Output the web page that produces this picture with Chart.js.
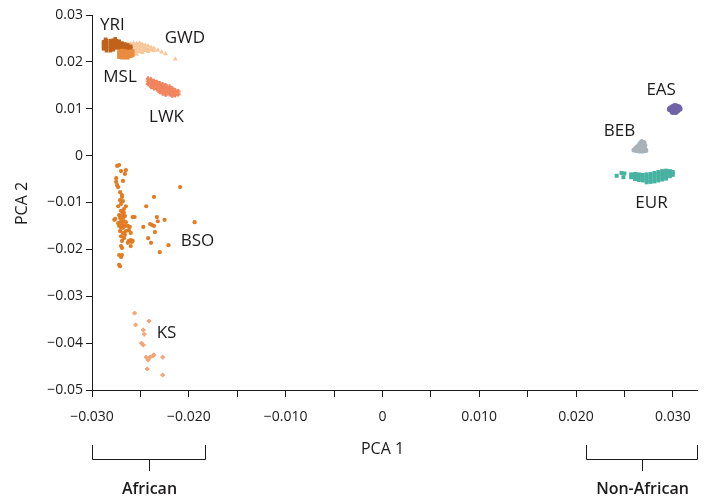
<!DOCTYPE html>
<html>
<head>
<meta charset="utf-8">
<script src="https://cdn.jsdelivr.net/npm/chart.js@4"></script>
<style>
  html, body { margin: 0; padding: 0; background: #ffffff; }
  #wrap { width: 712px; height: 501px; position: relative; }
</style>
</head>
<body>
<div id="wrap"><canvas id="c" width="712" height="501"></canvas></div>
<script>
// ---------- tick labels ----------
const xTickValues = [-0.03, -0.025, -0.02, -0.015, -0.01, -0.005, 0, 0.005, 0.01, 0.015, 0.02, 0.025, 0.03];
const xTickLabels = ['\u22120.030', '', '\u22120.020', '', '\u22120.010', '', '0', '', '0.010', '', '0.020', '', '0.030'];
const yTickValues = [-0.05, -0.04, -0.03, -0.02, -0.01, 0, 0.01, 0.02, 0.03];
const yTickLabels = ['\u22120.05', '\u22120.04', '\u22120.03', '\u22120.02', '\u22120.01', '0', '0.01', '0.02', '0.03'];

// ---------- populations ----------
const populations = ['MSL', 'YRI', 'GWD', 'LWK', 'BSO', 'KS', 'EAS', 'BEB', 'EUR'];
const labelX = [-0.0271, -0.0279, -0.0204, -0.0223, -0.0191, -0.0223, 0.0288, 0.0245, 0.0278];
const labelY = [0.0168, 0.0279, 0.0251, 0.0082, -0.0182, -0.0378, 0.0140, 0.0053, -0.0101];

// ---------- regions ----------
const regionNames = ['African', 'Non-African'];
const regionFrom = [-0.030, 0.0210];
const regionTo = [-0.0183, 0.0325];

// ---------- PCA values [PCA1, PCA2] ----------
const YRI = [
  [-0.0288,0.0243],[-0.0288,0.0238],[-0.0288,0.0233],[-0.0288,0.0228],
  [-0.0285,0.0245],[-0.0285,0.0239],[-0.0285,0.0234],[-0.0285,0.0229],[-0.0285,0.0224],
  [-0.0281,0.0245],[-0.0281,0.0240],[-0.0281,0.0234],[-0.0281,0.0229],[-0.0281,0.0224],
  [-0.0278,0.0246],[-0.0278,0.0240],[-0.0278,0.0235],[-0.0278,0.0230],[-0.0278,0.0226],
  [-0.0275,0.0245],[-0.0275,0.0240],[-0.0275,0.0235],[-0.0275,0.0230],
  [-0.0272,0.0244],[-0.0272,0.0238],[-0.0272,0.0233],[-0.0272,0.0229],
  [-0.0269,0.0240],[-0.0269,0.0235],[-0.0269,0.0231],
  [-0.0266,0.0238],[-0.0266,0.0233],[-0.0266,0.0229],
  [-0.0263,0.0236],[-0.0263,0.0231],[-0.0263,0.0227],
  [-0.0260,0.0233],[-0.0260,0.0229],[-0.0286,0.0248],[-0.0276,0.0249]
];
const MSL = [
  [-0.0272,0.0223],[-0.0272,0.0219],[-0.0272,0.0214],[-0.0272,0.0210],
  [-0.0269,0.0224],[-0.0269,0.0219],[-0.0269,0.0214],[-0.0269,0.0209],
  [-0.0266,0.0223],[-0.0266,0.0218],[-0.0266,0.0213],[-0.0266,0.0209],
  [-0.0263,0.0222],[-0.0263,0.0217],[-0.0263,0.0212],[-0.0263,0.0209],
  [-0.0260,0.0222],[-0.0260,0.0217],[-0.0260,0.0212],
  [-0.0258,0.0223],[-0.0258,0.0218],[-0.0258,0.0214]
];
const GWD = [
  [-0.0263,0.0238],[-0.0263,0.0231],[-0.0263,0.0226],[-0.0263,0.0221],[-0.0263,0.0216],
  [-0.0260,0.0239],[-0.0260,0.0232],[-0.0260,0.0227],[-0.0260,0.0222],[-0.0260,0.0217],
  [-0.0257,0.0240],[-0.0257,0.0234],[-0.0257,0.0228],[-0.0257,0.0223],[-0.0257,0.0218],
  [-0.0254,0.0239],[-0.0254,0.0233],[-0.0254,0.0227],[-0.0254,0.0221],[-0.0254,0.0216],
  [-0.0251,0.0240],[-0.0251,0.0234],[-0.0251,0.0228],[-0.0251,0.0222],
  [-0.0248,0.0238],[-0.0248,0.0232],[-0.0248,0.0226],[-0.0248,0.0220],
  [-0.0245,0.0236],[-0.0245,0.0230],[-0.0245,0.0224],
  [-0.0242,0.0234],[-0.0242,0.0228],[-0.0242,0.0222],
  [-0.0239,0.0231],[-0.0239,0.0225],
  [-0.0236,0.0229],[-0.0236,0.0224],
  [-0.0232,0.0225],[-0.0228,0.0221],[-0.0224,0.0217],[-0.0214,0.0206]
];
const LWK = [
  [-0.0242,0.0164],[-0.0242,0.0158],[-0.0242,0.0153],
  [-0.0239,0.0162],[-0.0239,0.0157],[-0.0239,0.0152],[-0.0239,0.0147],
  [-0.0236,0.0159],[-0.0236,0.0154],[-0.0236,0.0149],[-0.0236,0.0144],
  [-0.0233,0.0157],[-0.0233,0.0152],[-0.0233,0.0147],[-0.0233,0.0142],
  [-0.0230,0.0154],[-0.0230,0.0150],[-0.0230,0.0145],[-0.0230,0.0140],[-0.0230,0.0136],
  [-0.0227,0.0152],[-0.0227,0.0147],[-0.0227,0.0142],[-0.0227,0.0138],[-0.0227,0.0133],
  [-0.0224,0.0150],[-0.0224,0.0145],[-0.0224,0.0140],[-0.0224,0.0135],[-0.0224,0.0130],
  [-0.0220,0.0147],[-0.0220,0.0142],[-0.0220,0.0137],[-0.0220,0.0132],
  [-0.0217,0.0143],[-0.0217,0.0138],[-0.0217,0.0133],[-0.0217,0.0128],
  [-0.0214,0.0139],[-0.0214,0.0134],[-0.0214,0.0129],
  [-0.0211,0.0137],[-0.0211,0.0131]
];
const BSO = [
  [-0.0274,-0.0022],[-0.0272,-0.0020],[-0.0270,-0.0033],[-0.0265,-0.0031],[-0.0266,-0.0039],
  [-0.0275,-0.0048],[-0.0268,-0.0054],[-0.0275,-0.0056],[-0.0274,-0.0063],[-0.0273,-0.0067],
  [-0.0269,-0.0084],[-0.0269,-0.0088],[-0.0268,-0.0097],[-0.0273,-0.0108],[-0.0265,-0.0108],
  [-0.0270,-0.0118],[-0.0268,-0.0120],[-0.0269,-0.0127],[-0.0272,-0.0127],[-0.0276,-0.0135],
  [-0.0277,-0.0137],[-0.0268,-0.0133],[-0.0270,-0.0140],[-0.0267,-0.0140],[-0.0269,-0.0146],
  [-0.0258,-0.0131],[-0.0256,-0.0131],[-0.0272,-0.0150],[-0.0268,-0.0154],[-0.0266,-0.0150],
  [-0.0263,-0.0150],[-0.0271,-0.0161],[-0.0268,-0.0165],[-0.0265,-0.0161],[-0.0262,-0.0159],
  [-0.0270,-0.0172],[-0.0266,-0.0169],[-0.0260,-0.0180],[-0.0259,-0.0184],[-0.0263,-0.0186],
  [-0.0262,-0.0182],[-0.0269,-0.0182],[-0.0270,-0.0193],[-0.0269,-0.0197],[-0.0260,-0.0193],
  [-0.0272,-0.0212],[-0.0269,-0.0212],[-0.0270,-0.0216],[-0.0272,-0.0233],[-0.0271,-0.0236],
  [-0.0271,-0.0095],[-0.0267,-0.0114],[-0.0271,-0.0133],[-0.0266,-0.0129],[-0.0270,-0.0154],
  [-0.0267,-0.0176],[-0.0265,-0.0142],[-0.0273,-0.0144],[-0.0261,-0.0152],[-0.0260,-0.0165],
  [-0.0258,-0.0182],[-0.0271,-0.0078],[-0.0270,-0.0103],[-0.0267,-0.0122],
  [-0.0209,-0.0067],[-0.0236,-0.0088],[-0.0244,-0.0108],[-0.0233,-0.0131],[-0.0232,-0.0140],
  [-0.0225,-0.0137],[-0.0194,-0.0142],[-0.0247,-0.0152],[-0.0240,-0.0146],[-0.0238,-0.0148],
  [-0.0236,-0.0150],[-0.0235,-0.0163],[-0.0242,-0.0176],[-0.0239,-0.0186],[-0.0221,-0.0191],
  [-0.0230,-0.0206]
];
const KS = [
  [-0.0256,-0.0336],[-0.0255,-0.0361],[-0.0241,-0.0353],[-0.0247,-0.0372],[-0.0246,-0.0381],
  [-0.0249,-0.0400],[-0.0247,-0.0404],[-0.0244,-0.0430],[-0.0242,-0.0436],[-0.0240,-0.0430],
  [-0.0237,-0.0427],[-0.0236,-0.0425],[-0.0227,-0.0430],[-0.0243,-0.0455],[-0.0227,-0.0468]
];
const EAS = [
  [0.0298,0.0101],[0.0300,0.0104],[0.0302,0.0106],[0.0304,0.0105],[0.0306,0.0103],
  [0.0307,0.0100],[0.0305,0.0097],[0.0302,0.0095],[0.0299,0.0097],[0.0301,0.0100],
  [0.0303,0.0101],[0.0304,0.0098],[0.0300,0.0093],[0.0303,0.0093],[0.0297,0.0099]
];
const BEB = [
  [0.0268,0.0030],[0.0270,0.0028],[0.0266,0.0025],[0.0269,0.0024],[0.0271,0.0022],
  [0.0264,0.0020],[0.0267,0.0020],[0.0270,0.0018],[0.0262,0.0016],[0.0265,0.0015],
  [0.0268,0.0014],[0.0271,0.0014],[0.0260,0.0012],[0.0263,0.0011],[0.0266,0.0010],
  [0.0269,0.0010],[0.0272,0.0011]
];
const EUR = [
  [0.0242,-0.0043],[0.0247,-0.0037],[0.0250,-0.0038],[0.0249,-0.0046],
  [0.0257,-0.0040],[0.0257,-0.0046],
  [0.0261,-0.0039],[0.0261,-0.0045],[0.0261,-0.0050],
  [0.0265,-0.0040],[0.0265,-0.0046],[0.0265,-0.0052],
  [0.0269,-0.0041],[0.0269,-0.0047],[0.0269,-0.0053],
  [0.0273,-0.0040],[0.0273,-0.0046],[0.0273,-0.0052],[0.0273,-0.0057],
  [0.0277,-0.0039],[0.0277,-0.0045],[0.0277,-0.0051],[0.0277,-0.0056],
  [0.0281,-0.0037],[0.0281,-0.0043],[0.0281,-0.0049],[0.0281,-0.0055],
  [0.0285,-0.0035],[0.0285,-0.0041],[0.0285,-0.0047],[0.0285,-0.0053],
  [0.0289,-0.0033],[0.0289,-0.0039],[0.0289,-0.0045],[0.0289,-0.0051],
  [0.0293,-0.0032],[0.0293,-0.0038],[0.0293,-0.0044],[0.0293,-0.0049],
  [0.0297,-0.0033],[0.0297,-0.0038],[0.0297,-0.0044],
  [0.0300,-0.0035],[0.0300,-0.0041]
];

const seriesData = [MSL, YRI, GWD, LWK, BSO, KS, EAS, BEB, EUR];
const colors = ['#e88c3e', '#c1621c', '#f8c596', '#f0845e', '#e27b22', '#f3a577', '#7164a6', '#a8b2b9', '#48b2a2'];
const shapes = ['rect', 'rect', 'triangle', 'cross', 'circle', 'cross', 'circle', 'circle', 'rect'];
const radii = [2.6, 2.6, 2.8, 2.4, 2.1, 2.2, 3, 2.6, 2.8];

const FONT = '"Open Sans", "DejaVu Sans", sans-serif';
const INK = '#1d1a1b';

function findLabel(values, labels, v) {
  for (let i = 0; i < values.length; i++) {
    if (Math.abs(values[i] - v) < 1e-9) return labels[i];
  }
  return '';
}

const annotate = {
  id: 'annotate',
  afterDraw(chart) {
    const ctx = chart.ctx;
    const xs = chart.scales.x, ys = chart.scales.y;
    ctx.save();
    ctx.fillStyle = INK;
    ctx.textAlign = 'center';
    ctx.textBaseline = 'middle';
    // population labels
    ctx.font = '17px ' + FONT;
    populations.forEach((p, i) => {
      ctx.fillText(p, xs.getPixelForValue(labelX[i]), ys.getPixelForValue(labelY[i]));
    });
    // axis titles
    ctx.font = '16px ' + FONT;
    ctx.fillText('PCA 1', (xs.left + xs.right) / 2 - 12, 449);
    ctx.save();
    ctx.translate(22, (ys.top + ys.bottom) / 2 + 1);
    ctx.rotate(-Math.PI / 2);
    ctx.fillText('PCA 2', 0, 0);
    ctx.restore();
    // region brackets
    ctx.strokeStyle = INK;
    ctx.lineWidth = 1;
    ctx.font = '600 16px ' + FONT;
    regionNames.forEach((name, i) => {
      const a = Math.round(xs.getPixelForValue(regionFrom[i])) + 0.5;
      const b = Math.round(xs.getPixelForValue(regionTo[i])) + 0.5;
      const m = Math.round((a + b) / 2) + 0.5;
      ctx.beginPath();
      ctx.moveTo(a, 445); ctx.lineTo(a, 459.5); ctx.lineTo(b, 459.5); ctx.lineTo(b, 445);
      ctx.moveTo(m, 459.5); ctx.lineTo(m, 471);
      ctx.stroke();
      ctx.fillText(name, m, 489);
    });
    ctx.restore();
  }
};

new Chart(document.getElementById('c'), {
  type: 'scatter',
  data: {
    datasets: populations.map((p, i) => ({
      label: p,
      data: seriesData[i].map(d => ({ x: d[0], y: d[1] })),
      backgroundColor: colors[i],
      borderColor: colors[i],
      borderWidth: shapes[i] === 'cross' ? 2 : 0,
      pointStyle: shapes[i],
      pointRadius: radii[i],
      pointHoverRadius: radii[i]
    }))
  },
  options: {
    responsive: false,
    animation: false,
    devicePixelRatio: 1,
    layout: { padding: { left: 0, right: 15, top: 15, bottom: 0 } },
    plugins: { legend: { display: false }, tooltip: { enabled: false } },
    scales: {
      x: {
        type: 'linear',
        min: -0.030,
        max: 0.0325,
        afterBuildTicks: s => { s.ticks = xTickValues.map(v => ({ value: v })); },
        afterFit: s => { s.height = 111; },
        ticks: {
          autoSkip: false,
          maxRotation: 0,
          padding: 12,
          color: INK,
          font: { family: FONT, size: 14 },
          callback: v => findLabel(xTickValues, xTickLabels, v)
        },
        grid: { drawOnChartArea: false, drawTicks: true, tickLength: 7, color: INK, lineWidth: 1 },
        border: { display: true, color: INK, width: 1 }
      },
      y: {
        type: 'linear',
        min: -0.05,
        max: 0.03,
        afterBuildTicks: s => { s.ticks = yTickValues.map(v => ({ value: v })); },
        afterFit: s => { s.width = 92; },
        ticks: {
          autoSkip: false,
          padding: 3,
          color: INK,
          font: { family: FONT, size: 14 },
          callback: v => findLabel(yTickValues, yTickLabels, v)
        },
        grid: { drawOnChartArea: false, drawTicks: true, tickLength: 6, color: INK, lineWidth: 1 },
        border: { display: true, color: INK, width: 1 }
      }
    }
  },
  plugins: [annotate]
});
</script>
</body>
</html>
